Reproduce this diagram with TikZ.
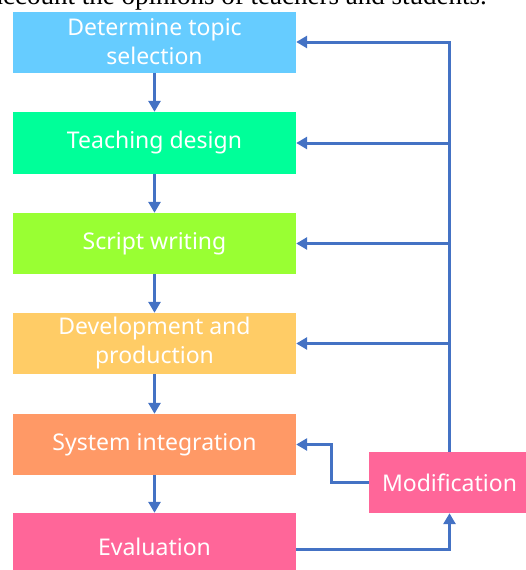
\documentclass[tikz,border=0pt]{standalone}
\usepackage{fontspec}
\setmainfont{Noto Sans}
\newfontfamily\serifnote{Liberation Serif}
\usetikzlibrary{arrows.meta}
\definecolor{cblue}{HTML}{66CCFF}
\definecolor{cteal}{HTML}{00FF99}
\definecolor{clime}{HTML}{99FF33}
\definecolor{corange}{HTML}{FFCC66}
\definecolor{csalmon}{HTML}{FF9966}
\definecolor{cpink}{HTML}{FF6699}
\definecolor{carrow}{HTML}{4472C4}
\tikzset{
  stepbox/.style={rectangle, draw=none, text=white, minimum width=283pt, minimum height=61pt,
    align=center, font=\fontsize{23}{29}\selectfont, inner sep=0pt},
  flow/.style={draw=carrow, line width=3pt, -{Triangle[length=11pt,width=12pt]}},
}
\begin{document}
\begin{tikzpicture}[x=1pt,y=-1pt]
\useasboundingbox (0,0) rectangle (526,570);
\node[anchor=base east, font=\serifnote\fontsize{27}{30}\selectfont, inner sep=0pt] (top) at (487,5) {account the opinions of teachers and students.};
\node[stepbox, fill=cblue] (b1) at (154.5,42) {Determine topic\\selection};
\node[stepbox, fill=cteal, minimum height=62pt] (b2) at (154.5,143) {Teaching design};
\node[stepbox, fill=clime] (b3) at (154.5,243.5) {Script writing};
\node[stepbox, fill=corange] (b4) at (154.5,343.5) {Development and\\production};
\node[stepbox, fill=csalmon] (b5) at (154.5,444.5) {System integration};
\node[stepbox, fill=cpink, minimum height=67pt] (b6) at (154.5,546.5) {Evaluation};
\node[stepbox, fill=cpink, minimum width=161pt] (mod) at (449.5,482.5) {Modification};
\draw[flow] (b1) -- (b2);
\draw[flow] (b2) -- (b3);
\draw[flow] (b3) -- (b4);
\draw[flow] (b4) -- (b5);
\draw[flow] (b5) -- (b6);
\draw[flow] (mod.north) -- (mod.north |- b1.east) -- (b1.east);
\draw[flow] (mod.north |- b2.east) -- (b2.east);
\draw[flow] (mod.north |- b3.east) -- (b3.east);
\draw[flow] (mod.north |- b4.east) -- (b4.east);
\draw[flow] (mod.west) -- ++(-37,0) |- (b5.east);
\draw[flow] ([yshift=-2.5pt]b6.east) -| (mod.south);
\end{tikzpicture}
\end{document}
